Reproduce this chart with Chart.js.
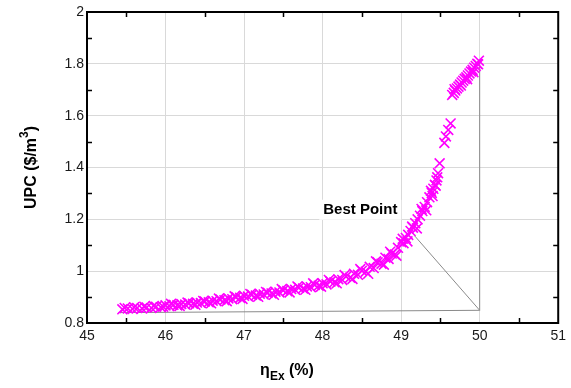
<!DOCTYPE html>
<html>
<head>
<meta charset="utf-8">
<script src="https://cdn.jsdelivr.net/npm/chart.js@4"></script>
<style>
  html, body { margin: 0; padding: 0; background: #ffffff; }
  #wrap { width: 571px; height: 388px; }
</style>
</head>
<body>
<div id="wrap"><canvas id="upcChart" width="571" height="388"></canvas></div>
<script>

const effX = [
  45.45, 45.52, 45.58, 45.64, 45.70, 45.76, 45.82, 45.88, 45.94, 46.00,
  46.05, 46.10, 46.15, 46.20, 46.25, 46.30, 46.35, 46.40, 46.45, 46.50,
  46.55, 46.60, 46.65, 46.70, 46.75, 46.80, 46.85, 46.90, 46.95, 47.00,
  47.05, 47.10, 47.15, 47.20, 47.25, 47.30, 47.35, 47.40, 47.45, 47.50,
  47.55, 47.60, 47.65, 47.70, 47.75, 47.80, 47.85, 47.90, 47.95, 48.00,
  48.05, 48.10, 48.15, 48.20, 48.25, 48.30, 48.35, 48.40, 48.45, 48.50,
  48.55, 48.60, 48.65, 48.70, 48.75, 48.80, 48.84, 48.88, 48.92, 48.96,
  49.00, 49.03, 49.06, 49.09, 49.12, 49.15, 49.18, 49.21, 49.24, 49.27,
  49.30, 49.33, 49.36, 49.39, 49.41, 49.43, 49.45, 49.47, 49.49,
  49.55, 49.57, 49.60, 49.63,
  49.65, 49.67, 49.69, 49.71, 49.73, 49.75, 49.77, 49.79, 49.81, 49.83,
  49.85, 49.87, 49.89, 49.91, 49.93, 49.95, 49.97, 49.99
];

const upcY = [
  0.853, 0.856, 0.854, 0.858, 0.856, 0.860, 0.858, 0.863, 0.861, 0.868,
  0.865, 0.870, 0.868, 0.873, 0.871, 0.876, 0.874, 0.879, 0.877, 0.883,
  0.880, 0.886, 0.884, 0.891, 0.888, 0.895, 0.892, 0.900, 0.897, 0.905,
  0.902, 0.909, 0.906, 0.913, 0.910, 0.917, 0.914, 0.921, 0.918, 0.926,
  0.923, 0.931, 0.928, 0.936, 0.933, 0.941, 0.938, 0.947, 0.944, 0.953,
  0.949, 0.960, 0.957, 0.969, 0.966, 0.979, 0.975, 0.990, 0.986, 1.002,
  0.998, 1.017, 1.012, 1.034, 1.029, 1.052, 1.047, 1.068, 1.064, 1.090,
  1.112, 1.108, 1.128, 1.140, 1.155, 1.168, 1.185, 1.200, 1.214, 1.232,
  1.248, 1.266, 1.285, 1.302, 1.318, 1.333, 1.350, 1.378, 1.416,
  1.495, 1.520, 1.545, 1.570,
  1.680, 1.688, 1.697, 1.705, 1.712, 1.720, 1.728, 1.735, 1.742, 1.748,
  1.755, 1.763, 1.770, 1.777, 1.785, 1.792, 1.800, 1.812
];

// second pass of solutions, scattered along both edges of the band
const effX2 = [
  45.48, 45.60, 45.73, 45.85, 45.97, 46.07, 46.18, 46.28, 46.38, 46.48,
  46.58, 46.68, 46.78, 46.88, 46.98, 47.08, 47.18, 47.28, 47.38, 47.48,
  47.58, 47.68, 47.78, 47.88, 47.98, 48.08, 48.18, 48.28, 48.38, 48.48,
  48.58, 48.68, 48.78, 48.86, 48.94, 49.02, 49.08, 49.14, 49.20, 49.26,
  49.32, 49.38, 49.40, 49.44, 49.46,
  49.68, 49.76, 49.84, 49.92, 49.98
];

const upcY2 = [
  0.858, 0.861, 0.863, 0.866, 0.863, 0.874, 0.866, 0.879, 0.870, 0.885,
  0.876, 0.894, 0.884, 0.903, 0.893, 0.912, 0.901, 0.920, 0.909, 0.931,
  0.918, 0.941, 0.928, 0.953, 0.940, 0.966, 0.953, 0.985, 0.970, 1.008,
  0.990, 1.038, 1.025, 1.075, 1.060, 1.125, 1.115, 1.172, 1.165, 1.240,
  1.235, 1.310, 1.290, 1.330, 1.362,
  1.702, 1.716, 1.741, 1.768, 1.798
];

// grey guide lines (triangle + pointer to best point)
const guideX = [45.4, 50.0, 50.0];
const guideY = [0.840, 0.849, 1.803];
const pointerX = [49.17, 50.0];
const pointerY = [1.137, 0.849];

const xTicks = [45, 46, 47, 48, 49, 50, 51];
const yTicks = [0.8, 1, 1.2, 1.4, 1.6, 1.8, 2];
const xMinor = [45.5, 46.5, 47.5, 48.5, 49.5, 50.5];
const yMinor = [0.9, 1.1, 1.3, 1.5, 1.7, 1.9];

const FONT = "'Liberation Sans', Arial, sans-serif";

function toPoints(xs, ys) {
  return xs.map((x, i) => ({ x: x, y: ys[i] }));
}

const decorPlugin = {
  id: "decor",

  beforeDatasetsDraw(chart) {
    const { ctx, scales } = chart;
    const cx = scales.x.getPixelForValue(48.48);
    const cy = scales.y.getPixelForValue(1.237);
    ctx.save();
    ctx.fillStyle = "#ffffff";
    ctx.fillRect(cx - 41, cy - 10, 82, 20);
    ctx.restore();
  },

  afterDatasetsDraw(chart) {
    const { ctx, scales } = chart;
    const cx = scales.x.getPixelForValue(48.48);
    const cy = scales.y.getPixelForValue(1.237);
    ctx.save();
    ctx.font = "bold 15px " + FONT;
    ctx.fillStyle = "#000000";
    ctx.textAlign = "center";
    ctx.textBaseline = "middle";
    ctx.fillText("Best Point", cx, cy);
    ctx.restore();
  },

  afterDraw(chart) {
    const { ctx, chartArea: a, scales } = chart;
    ctx.save();

    // frame
    ctx.strokeStyle = "#000000";
    ctx.lineWidth = 2;
    ctx.strokeRect(a.left, a.top, a.right - a.left, a.bottom - a.top);

    // inward minor ticks
    ctx.lineWidth = 1.5;
    ctx.beginPath();
    xMinor.forEach(v => {
      const px = Math.round(scales.x.getPixelForValue(v)) + 0.5;
      ctx.moveTo(px, a.bottom);
      ctx.lineTo(px, a.bottom - 5);
      ctx.moveTo(px, a.top);
      ctx.lineTo(px, a.top + 5);
    });
    yMinor.forEach(v => {
      const py = Math.round(scales.y.getPixelForValue(v)) + 0.5;
      ctx.moveTo(a.left, py);
      ctx.lineTo(a.left + 5, py);
      ctx.moveTo(a.right, py);
      ctx.lineTo(a.right - 5, py);
    });
    ctx.stroke();

    // x axis title: eta with subscript Ex
    ctx.fillStyle = "#000000";
    ctx.textBaseline = "alphabetic";
    ctx.textAlign = "left";
    const big = "bold 16px " + FONT;
    const small = "bold 12px " + FONT;
    ctx.font = big;
    const wEta = ctx.measureText("\u03b7").width;
    const wPct = ctx.measureText(" (%)").width;
    ctx.font = small;
    const wEx = ctx.measureText("Ex").width;
    let tx = 287 - (wEta + wEx + wPct) / 2;
    ctx.font = big;
    ctx.fillText("\u03b7", tx, 375);
    tx += wEta;
    ctx.font = small;
    ctx.fillText("Ex", tx, 380);
    tx += wEx;
    ctx.font = big;
    ctx.fillText(" (%)", tx, 375);

    // y axis title with superscript 3
    ctx.translate(36, (a.top + a.bottom) / 2);
    ctx.rotate(-Math.PI / 2);
    ctx.font = big;
    const wA = ctx.measureText("UPC ($/m").width;
    const wC = ctx.measureText(")").width;
    ctx.font = small;
    const wB = ctx.measureText("3").width;
    let ty = -(wA + wB + wC) / 2;
    ctx.font = big;
    ctx.fillText("UPC ($/m", ty, 0);
    ty += wA;
    ctx.font = small;
    ctx.fillText("3", ty, -8);
    ty += wB;
    ctx.font = big;
    ctx.fillText(")", ty, 0);

    ctx.restore();
  }
};

document.addEventListener("DOMContentLoaded", () => {

  const canvas = document.getElementById("upcChart");

  const markerStyle = {
    pointStyle: "crossRot",
    pointRadius: 7,
    borderColor: "#ff00ff",
    backgroundColor: "#ff00ff",
    pointBorderWidth: 1.6,
    order: 1
  };

  new Chart(canvas, {
    type: "scatter",

    data: {
      datasets: [
        {
          label: "Guide",
          data: toPoints(guideX, guideY),
          showLine: true,
          borderColor: "#8a8a8a",
          borderWidth: 1,
          pointRadius: 0,
          order: 2
        },
        {
          label: "Pointer",
          data: toPoints(pointerX, pointerY),
          showLine: true,
          borderColor: "#8a8a8a",
          borderWidth: 1,
          pointRadius: 0,
          order: 2
        },
        Object.assign({ label: "UPC", data: toPoints(effX, upcY) }, markerStyle),
        Object.assign({ label: "UPC 2", data: toPoints(effX2, upcY2) }, markerStyle)
      ]
    },

    options: {
      responsive: false,
      animation: false,
      layout: {
        padding: { top: 12, right: 9, left: 0, bottom: 0 }
      },
      plugins: {
        legend: { display: false },
        tooltip: { enabled: false }
      },
      scales: {
        x: {
          type: "linear",
          min: 45,
          max: 51,
          afterBuildTicks: s => { s.ticks = xTicks.map(v => ({ value: v })); },
          afterFit: s => { s.height = 65; },
          ticks: {
            color: "#1a1a1a",
            font: { family: FONT, size: 14 },
            padding: 5,
            maxRotation: 0
          },
          grid: {
            color: "#d9d9d9",
            lineWidth: 1,
            drawTicks: false
          },
          border: { display: false }
        },
        y: {
          type: "linear",
          min: 0.8,
          max: 2,
          afterBuildTicks: s => { s.ticks = yTicks.map(v => ({ value: v })); },
          afterFit: s => { s.width = 87; },
          ticks: {
            color: "#1a1a1a",
            font: { family: FONT, size: 14 },
            padding: 3,
            callback: v => String(+v.toFixed(1))
          },
          grid: {
            color: "#d9d9d9",
            lineWidth: 1,
            drawTicks: false
          },
          border: { display: false }
        }
      }
    },

    plugins: [decorPlugin]
  });

});
</script>
</body>
</html>
